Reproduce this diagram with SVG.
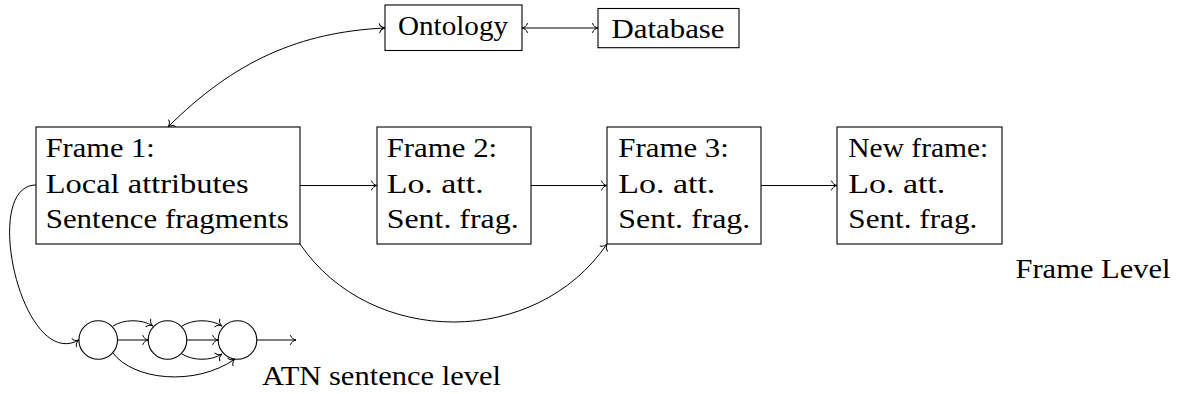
<svg xmlns="http://www.w3.org/2000/svg" width="1177" height="394" viewBox="0 0 1177 394">
<style>
.box{fill:#fff;stroke:#000;stroke-width:1.1}
.st{fill:none;stroke:#000;stroke-width:1.1}
.t{font-family:'Liberation Serif','DejaVu Serif',serif;font-size:28px;fill:#000}
.e{fill:none;stroke:#000;stroke-width:1;marker-end:url(#ah)}
.e2{fill:none;stroke:#000;stroke-width:1;marker-end:url(#ah);marker-start:url(#ah)}
</style>
<defs>
<marker id="ah" markerUnits="userSpaceOnUse" viewBox="-7 -6 8 12" refX="0" refY="0" markerWidth="8" markerHeight="12" orient="auto-start-reverse" overflow="visible">
<path d="M -5.5 -4.5 C -4.8 -1.8 -1.8 -0.4 0 0 C -1.8 0.4 -4.8 1.8 -5.5 4.5" fill="none" stroke="#000" stroke-width="1" stroke-linecap="round"/>
</marker>
</defs>
<g id="connectors">
<path class="e2" d="M 385 28 C 300 32 234 61 168 127"/>
<path class="e2" d="M 522 28 L 598 28"/>
<path class="e" d="M 300 185.5 L 377 185.5"/>
<path class="e" d="M 531 185.5 L 607 185.5"/>
<path class="e" d="M 761 185.5 L 837 185.5"/>
<path class="e" d="M 300 244 C 371 348 536 348 607 244"/>
<path class="e" d="M 36 185 C -20 185 22 372 79 340"/>
<path class="e" d="M 117.5 340 L 148.3 340"/>
<path class="e" d="M 113 326 C 124 319 142 319 153 326"/>
<path class="e" d="M 186.7 340 L 218.2 340"/>
<path class="e" d="M 182 326 C 193 319 211 319 222 326"/>
<path class="e" d="M 182 354 C 193 361 211 361 222 354"/>
<path class="e" d="M 113 353 C 133 380 195 387 235 359"/>
<path class="e" d="M 256.8 340 L 296 340"/>
</g>
<g id="ontology">
<rect class="box" x="385" y="5" width="137" height="45.5"/>
<text class="t" x="398" y="34.5" textLength="110" lengthAdjust="spacingAndGlyphs">Ontology</text>
</g>
<g id="database">
<rect class="box" x="598" y="8.5" width="141" height="39.2"/>
<text class="t" x="611.5" y="38" textLength="113" lengthAdjust="spacingAndGlyphs">Database</text>
</g>
<g id="frame1">
<rect class="box" x="36" y="127" width="264" height="117"/>
<text class="t" x="45.7" y="156.5" textLength="109" lengthAdjust="spacingAndGlyphs">Frame 1:</text>
<text class="t" x="45.7" y="192.5" textLength="203" lengthAdjust="spacingAndGlyphs">Local attributes</text>
<text class="t" x="45.7" y="228.3" textLength="243" lengthAdjust="spacingAndGlyphs">Sentence fragments</text>
</g>
<g id="frame2">
<rect class="box" x="377" y="127" width="154" height="117"/>
<text class="t" x="386.7" y="156.5" textLength="110.5" lengthAdjust="spacingAndGlyphs">Frame 2:</text>
<text class="t" x="386.7" y="192.5" textLength="97" lengthAdjust="spacingAndGlyphs">Lo. att.</text>
<text class="t" x="386.7" y="228.3" textLength="132" lengthAdjust="spacingAndGlyphs">Sent. frag.</text>
</g>
<g id="frame3">
<rect class="box" x="607" y="127" width="154" height="117"/>
<text class="t" x="618.3" y="156.5" textLength="110.5" lengthAdjust="spacingAndGlyphs">Frame 3:</text>
<text class="t" x="618.3" y="192.5" textLength="97" lengthAdjust="spacingAndGlyphs">Lo. att.</text>
<text class="t" x="618.3" y="228.3" textLength="132" lengthAdjust="spacingAndGlyphs">Sent. frag.</text>
</g>
<g id="newframe">
<rect class="box" x="837" y="127" width="165" height="117"/>
<text class="t" x="848.3" y="156.5" textLength="140" lengthAdjust="spacingAndGlyphs">New frame:</text>
<text class="t" x="848.3" y="192.5" textLength="97" lengthAdjust="spacingAndGlyphs">Lo. att.</text>
<text class="t" x="848.3" y="228.3" textLength="129" lengthAdjust="spacingAndGlyphs">Sent. frag.</text>
</g>
<g id="framelevel">
<text class="t" x="1015.5" y="277.5" textLength="155" lengthAdjust="spacingAndGlyphs">Frame Level</text>
</g>
<g id="state1"><circle class="st" cx="98.2" cy="340" r="19.3"/></g>
<g id="state2"><circle class="st" cx="167.5" cy="340" r="19.3"/></g>
<g id="state3"><circle class="st" cx="237.5" cy="340" r="19.3"/></g>
<g id="atnlevel">
<text class="t" x="262" y="384.5" textLength="239" lengthAdjust="spacingAndGlyphs">ATN sentence level</text>
</g>
</svg>
